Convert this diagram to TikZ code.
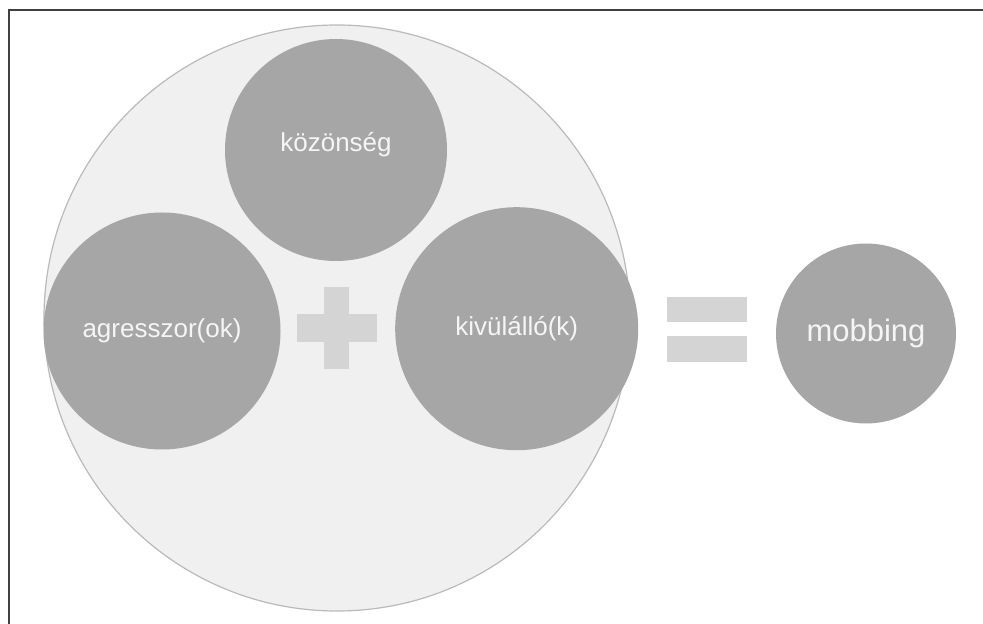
\documentclass[tikz,border=0pt]{standalone}
\usepackage{fontspec}
\setmainfont{Liberation Sans}
\begin{document}
\begin{tikzpicture}[x=0.5pt,y=-0.5pt,
  bigdisc/.style={circle,draw=black!27,line width=0.6pt,fill=black!6,inner sep=0pt},
  member/.style={circle,fill=black!35,inner sep=0pt,text=black!4,font=\fontsize{13}{15}\selectfont},
  result/.style={circle,fill=black!35,inner sep=0pt,text=black!4,font=\fontsize{15.5}{18}\selectfont},
  sign/.style={fill=black!17,draw=none}]
  % canvas and frame
  \useasboundingbox (0,0) rectangle (983,624);
  \fill[white] (0,0) rectangle (983,624);
  \draw[black!75,line width=1pt] (9,624) -- (9,10.5) -- (983,10.5);

  % surrounding group
  \node[bigdisc,minimum size=293pt] (group) at (337,318) {};

  % members of the group
  \node[member,minimum size=111pt] (kozonseg) at (336,150) {\raisebox{8pt}{közönség}};
  \node[member,minimum size=118.5pt] (agresszor) at (162,331) {agresszor(ok)};
  \node[member,minimum size=121.5pt] (kivulallo) at (516.7,328.7) {kivülálló(k)};

  % plus sign
  \node[sign,minimum width=12.5pt,minimum height=41pt,inner sep=0pt] (plusv) at (336.7,328.3) {};
  \node[sign,minimum width=40pt,minimum height=13.7pt,inner sep=0pt] (plush) at (336.7,328) {};

  % equals sign
  \node[sign,minimum width=39.7pt,minimum height=12.8pt,inner sep=0pt] (eqtop) at (707,309.5) {};
  \node[sign,minimum width=39.7pt,minimum height=12.8pt,inner sep=0pt] (eqbot) at (707,348.8) {};

  % result
  \node[result,minimum size=90pt] (mobbing) at (866,333.5) {mobbing};
\end{tikzpicture}
\end{document}
